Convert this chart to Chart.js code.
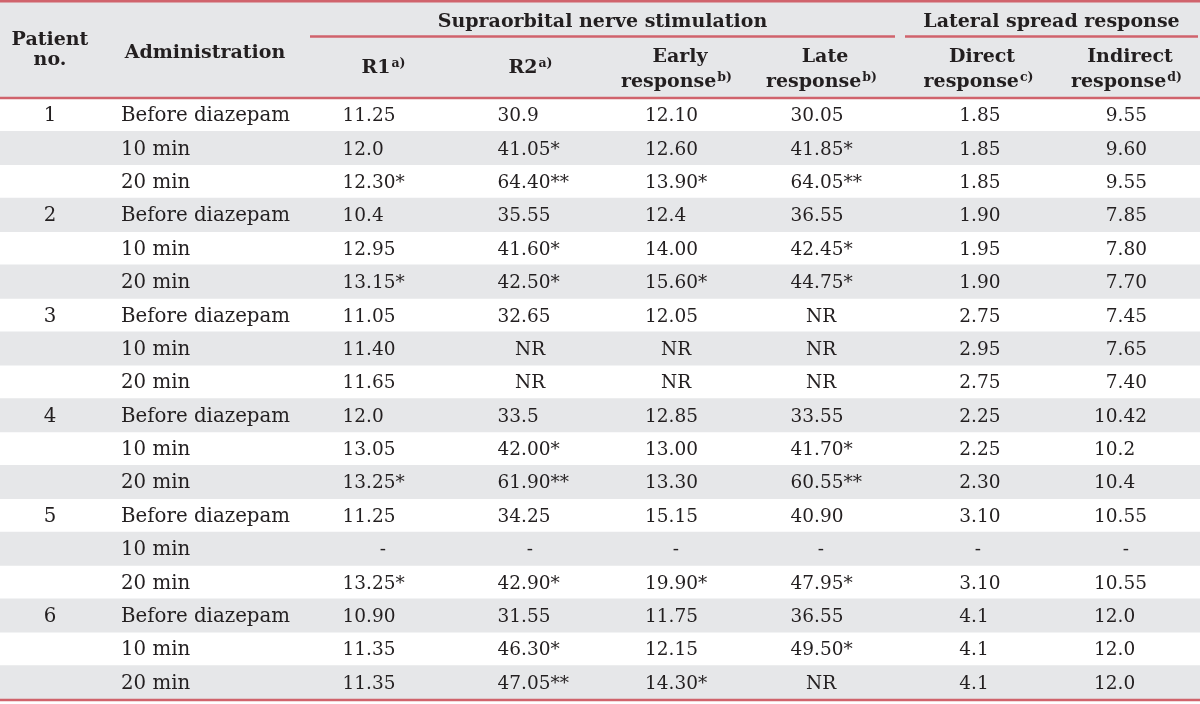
<!DOCTYPE html>
<html>
<head>
<meta charset="utf-8">
<script src="https://cdn.jsdelivr.net/npm/chart.js@4.4.1/dist/chart.umd.min.js"></script>
<style>
  body { margin: 0; background: #fff; }
  #wrap { width: 1200px; height: 704px; }
</style>
</head>
<body>
<div id="wrap"><canvas id="tbl" width="1200" height="704"></canvas></div>
<script>
// table content, one array per column
const patientNo = ['1', '', '', '2', '', '', '3', '', '', '4', '', '', '5', '', '', '6', '', ''];
const administration = [
    'Before diazepam', '10 min', '20 min', 'Before diazepam', '10 min', '20 min',
    'Before diazepam', '10 min', '20 min', 'Before diazepam', '10 min', '20 min',
    'Before diazepam', '10 min', '20 min', 'Before diazepam', '10 min', '20 min'
];
const r1 = ['11.25', '12.0', '12.30*', '10.4', '12.95', '13.15*', '11.05', '11.40', '11.65',
    '12.0', '13.05', '13.25*', '11.25', '-', '13.25*', '10.90', '11.35', '11.35'];
const r2 = ['30.9', '41.05*', '64.40**', '35.55', '41.60*', '42.50*', '32.65', 'NR', 'NR',
    '33.5', '42.00*', '61.90**', '34.25', '-', '42.90*', '31.55', '46.30*', '47.05**'];
const earlyResp = ['12.10', '12.60', '13.90*', '12.4', '14.00', '15.60*', '12.05', 'NR', 'NR',
    '12.85', '13.00', '13.30', '15.15', '-', '19.90*', '11.75', '12.15', '14.30*'];
const lateResp = ['30.05', '41.85*', '64.05**', '36.55', '42.45*', '44.75*', 'NR', 'NR', 'NR',
    '33.55', '41.70*', '60.55**', '40.90', '-', '47.95*', '36.55', '49.50*', 'NR'];
const directResp = ['1.85', '1.85', '1.85', '1.90', '1.95', '1.90', '2.75', '2.95', '2.75',
    '2.25', '2.25', '2.30', '3.10', '-', '3.10', '4.1', '4.1', '4.1'];
const indirectResp = ['9.55', '9.60', '9.55', '7.85', '7.80', '7.70', '7.45', '7.65', '7.40',
    '10.42', '10.2', '10.4', '10.55', '-', '10.55', '12.0', '12.0', '12.0'];

const groupHeaders = ['Supraorbital nerve stimulation', 'Lateral spread response'];
const subHeaders = [['R1', 'a)'], ['R2', 'a)'], ['Early', 'response', 'b)'], ['Late', 'response', 'b)'],
    ['Direct', 'response', 'c)'], ['Indirect', 'response', 'd)']];

// layout (x in px along the hidden linear scale)
const valueCols = [r1, r2, earlyResp, lateResp, directResp, indirectResp];
const colMid = [383, 530, 676, 821, 978, 1126];
const colDot = [366, 521, 668.5, 814, 971, 1117.5];
const groupSpan = [[310, 895], [905, 1198]];

const INK = '#231f20';
const RULE = '#d0636c';
const GREY = '#e6e7e9';
const BODY_FONT = '18.5px "DejaVu Serif"';
const TEXT_FONT = '19.8px "DejaVu Serif"';
const HEAD_FONT = 'bold 19px "DejaVu Serif"';
const SUP_FONT = 'bold 12.5px "DejaVu Serif"';

const rowIds = administration.map((_, i) => 'row' + (i + 1));

function rule(ctx, x0, x1, yy) {
    ctx.strokeStyle = RULE;
    ctx.lineWidth = 2.5;
    ctx.beginPath();
    ctx.moveTo(x0, yy);
    ctx.lineTo(x1, yy);
    ctx.stroke();
}

function headWithSup(ctx, text, sup, cx, yy) {
    ctx.font = HEAD_FONT;
    const w1 = ctx.measureText(text).width;
    ctx.font = SUP_FONT;
    const w2 = ctx.measureText(sup).width;
    const left = cx - (w1 + w2) / 2;
    ctx.textAlign = 'left';
    ctx.font = HEAD_FONT;
    ctx.fillText(text, left, yy);
    ctx.font = SUP_FONT;
    ctx.fillText(sup, left + w1 + 1, yy - 6.5);
}

const tablePlugin = {
    id: 'tableText',
    beforeDatasetsDraw(chart) {
        const { ctx, chartArea } = chart;
        ctx.save();
        ctx.fillStyle = GREY;
        ctx.fillRect(0, 0, chart.width, chartArea.top);
        ctx.restore();
    },
    afterDatasetsDraw(chart) {
        const { ctx, chartArea, scales: { x, y } } = chart;
        const px = v => x.getPixelForValue(v);
        ctx.save();
        ctx.fillStyle = INK;
        ctx.textBaseline = 'alphabetic';

        // header
        ctx.font = HEAD_FONT;
        ctx.textAlign = 'center';
        ctx.fillText('Patient', px(50), 45);
        ctx.fillText('no.', px(50), 65);
        ctx.fillText('Administration', px(205), 58);
        groupHeaders.forEach((g, i) => {
            ctx.font = HEAD_FONT;
            ctx.textAlign = 'center';
            ctx.fillText(g, px((groupSpan[i][0] + groupSpan[i][1]) / 2), 26.5);
            rule(ctx, px(groupSpan[i][0]), px(groupSpan[i][1]), 36.5);
        });
        subHeaders.forEach((h, i) => {
            if (h.length === 2) {
                headWithSup(ctx, h[0], h[1], px(colMid[i]), 73);
            } else {
                ctx.font = HEAD_FONT;
                ctx.textAlign = 'center';
                ctx.fillText(h[0], px(colMid[i] + 4), 61.5);
                headWithSup(ctx, h[1], h[2], px(colMid[i]), 87);
            }
        });

        // body
        administration.forEach((adm, i) => {
            const yy = y.getPixelForValue(i) + 6.5;
            ctx.font = TEXT_FONT;
            ctx.textAlign = 'center';
            ctx.fillText(patientNo[i], px(50), yy);
            ctx.textAlign = 'left';
            ctx.fillText(adm, px(121), yy);
            ctx.font = BODY_FONT;
            valueCols.forEach((col, c) => {
                const s = col[i];
                if (!/\d/.test(s)) {
                    ctx.textAlign = 'center';
                    ctx.fillText(s, px(colMid[c]), yy);
                    return;
                }
                const dot = s.indexOf('.');
                const head = dot < 0 ? s : s.slice(0, dot);
                const tail = dot < 0 ? '' : s.slice(dot);
                ctx.textAlign = 'right';
                ctx.fillText(head, px(colDot[c]), yy);
                ctx.textAlign = 'left';
                ctx.fillText(tail, px(colDot[c]), yy);
            });
        });

        // horizontal rules
        rule(ctx, 0, chart.width, 1.2);
        rule(ctx, 0, chart.width, chartArea.top);
        rule(ctx, 0, chart.width, chartArea.bottom + 1);
        ctx.restore();
    }
};

new Chart(document.getElementById('tbl'), {
    type: 'bar',
    data: {
        labels: rowIds,
        datasets: [{
            // every second row is shaded across the full width
            data: rowIds.map((_, i) => (i % 2 ? 1200 : null)),
            backgroundColor: GREY,
            borderWidth: 0,
            barPercentage: 1,
            categoryPercentage: 1
        }]
    },
    options: {
        indexAxis: 'y',
        responsive: false,
        animation: false,
        devicePixelRatio: 1,
        layout: { padding: { top: 98, bottom: 5, left: 0, right: 0 } },
        scales: {
            x: { display: false, min: 0, max: 1200 },
            y: { display: false }
        },
        plugins: {
            legend: { display: false },
            tooltip: { enabled: false }
        }
    },
    plugins: [tablePlugin]
});
</script>
</body>
</html>
